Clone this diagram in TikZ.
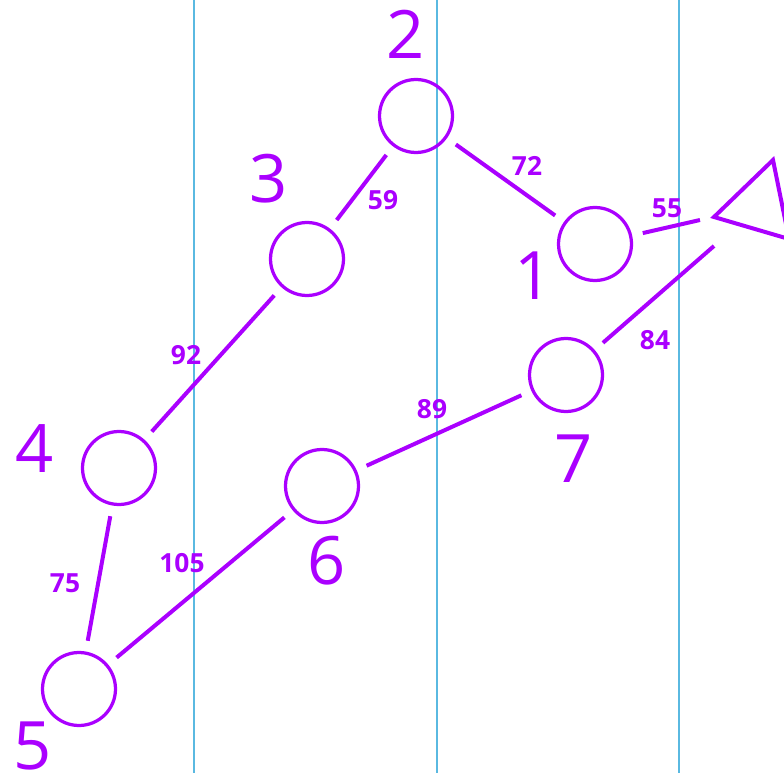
\documentclass[tikz,border=0pt]{standalone}
\usepackage{fontspec}
\setmainfont{Open Sans}
\definecolor{route}{RGB}{170,0,255}
\definecolor{grid}{RGB}{90,185,225}

\begin{document}
\begin{tikzpicture}[x=0.02cm,y=-0.02cm,
  town/.style={circle,draw=route,line width=0.065cm,minimum size=1.46cm,inner sep=0pt,outer sep=0.25cm},
  road/.style={route,line width=0.08cm},
  num/.style={text=route,font=\fontsize{38}{38}\selectfont,inner sep=0pt},
  dist/.style={text=route,font=\bfseries\fontsize{15}{15}\selectfont,inner sep=0pt}]
\useasboundingbox (0,0) rectangle (784,773);
\clip (0,0) rectangle (784,773);
\draw[grid,line width=0.025cm] (194,0)--(194,773) (437,0)--(437,773) (679,0)--(679,773);
\node[town] (n1) at (595,244) {};
\node[town] (n2) at (416,116) {};
\node[town] (n3) at (307,259) {};
\node[town] (n4) at (119,468) {};
\node[town] (n5) at (79,689) {};
\node[town] (n6) at (322,486) {};
\node[town] (n7) at (566,375) {};
\coordinate (T55) at (700,220);
\coordinate (T84) at (714,246);
\draw[road] (714,217)--(773,160)--(789,239)--cycle;
\draw[road] (n2)--(n1);
\draw[road] (n2)--(n3);
\draw[road] (n3)--(n4);
\draw[road] (n4)--(n5);
\draw[road] (n5)--(n6);
\draw[road] (n6)--(n7);
\draw[road] (n7)--(T84);
\draw[road] (n1)--(T55);
\node[num] (l1) at (534,276) {1};
\node[num] (l2) at (406,34) {2};
\node[num] (l3) at (269,179) {3};
\node[num] (l4) at (35,449) {4};
\node[num] (l5) at (33,746) {5};
\node[num] (l6) at (327,561) {6};
\node[num] (l7) at (574,459) {7};
\node[dist] (d72) at (527,166) {72};
\node[dist] (d59) at (383,200) {59};
\node[dist] (d92) at (186,355) {92};
\node[dist] (d75) at (65,583) {75};
\node[dist] (d105) at (182,563) {105};
\node[dist] (d89) at (432,409) {89};
\node[dist] (d84) at (655,340) {84};
\node[dist] (d55) at (667,208) {55};
\end{tikzpicture}
\end{document}
